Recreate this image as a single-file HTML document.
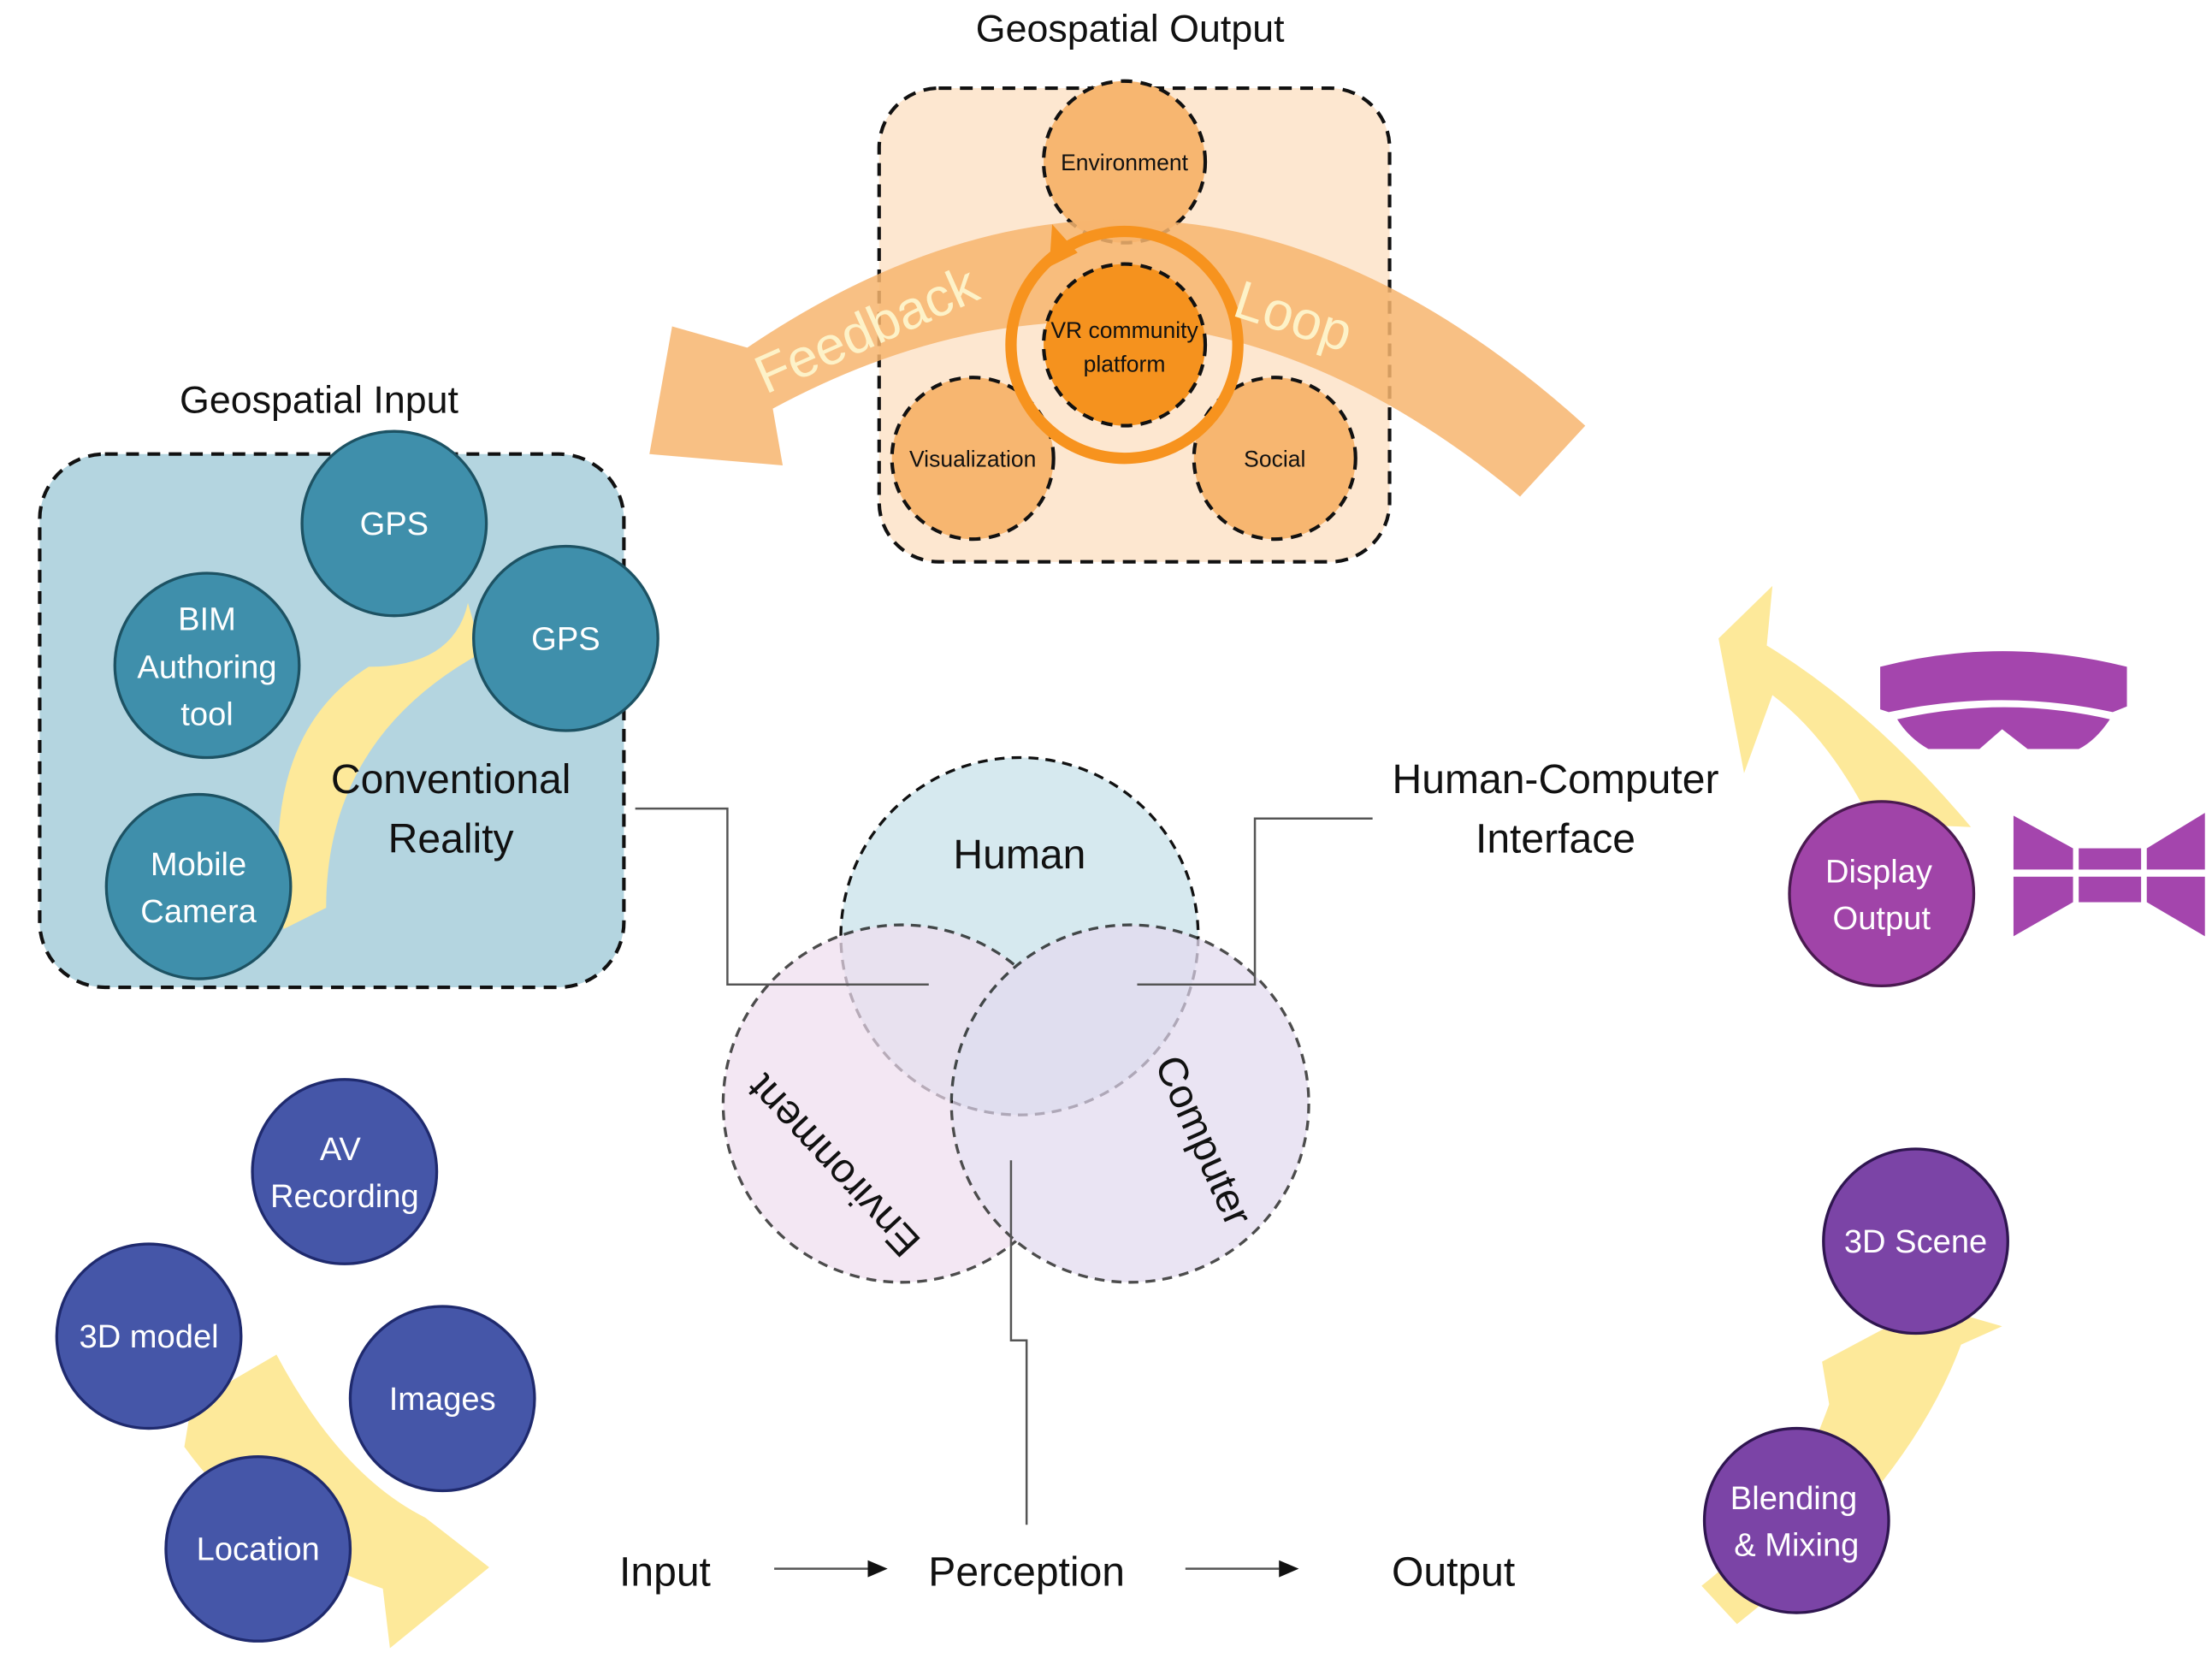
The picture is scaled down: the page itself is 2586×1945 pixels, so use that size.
<!DOCTYPE html>
<html><head><meta charset="utf-8">
<style>
html,body{margin:0;padding:0;background:#fff;}
svg{display:block;}
text{font-family:"Liberation Sans",sans-serif;}
</style></head>
<body>
<svg width="2586" height="1945" viewBox="0 0 1560 1173" xmlns="http://www.w3.org/2000/svg">
<rect width="1560" height="1173" fill="#fff"/>

<!-- Geospatial Output -->
<text x="797" y="29" font-size="27" text-anchor="middle" fill="#111">Geospatial Output</text>
<rect x="620" y="62" width="360" height="334" rx="42" fill="#fde7d0" stroke="#111" stroke-width="2.5" stroke-dasharray="9,6"/>
<g stroke="#111" stroke-width="2.5" stroke-dasharray="8,6">
<ellipse cx="793" cy="114" rx="57" ry="57" fill="#f7b670"/>
<ellipse cx="686" cy="323" rx="57" ry="57" fill="#f7b670"/>
<ellipse cx="899" cy="323" rx="57" ry="57" fill="#f7b670"/>
</g>
<path d="M1118,300 Q830,40 527,245 L474,230 L458,320 L552,328 L545,288 Q820,140 1072,350 Z" fill="#f7b56e" opacity="0.85"/>
<circle cx="793" cy="243" r="80" fill="none" stroke="#f7931e" stroke-width="8"/>
<path d="M742,158 L760,178 L740,188 Z" fill="#f7931e"/>
<ellipse cx="793" cy="243" rx="57" ry="57" fill="#f5921e" stroke="#111" stroke-width="2.5" stroke-dasharray="8,6"/>
<text font-size="38" fill="#fdf2c8" transform="translate(540,278) rotate(-24)">Feedback</text>
<text font-size="38" fill="#fdf2c8" transform="translate(868,222) rotate(18)">Loop</text>
<g font-size="16" text-anchor="middle" fill="#111">
<text x="793" y="120">Environment</text>
<text x="793" y="238">VR community</text>
<text x="793" y="262">platform</text>
<text x="686" y="329">Visualization</text>
<text x="899" y="329">Social</text>
</g>

<!-- Geospatial Input -->
<text x="225" y="291" font-size="27" text-anchor="middle" fill="#111">Geospatial Input</text>
<rect x="28" y="320" width="412" height="376" rx="46" fill="#b4d5e0" stroke="#111" stroke-width="2.5" stroke-dasharray="9,6"/>
<path d="M330,425 Q320,470 260,470 Q180,520 200,655 L230,640 Q230,520 340,460 Z" fill="#fde99a"/>
<g fill="#3f8fab" stroke="#1d5263" stroke-width="2">
<circle cx="278" cy="369" r="65"/>
<circle cx="399" cy="450" r="65"/>
<circle cx="146" cy="469" r="65"/>
<circle cx="140" cy="625" r="65"/>
</g>
<g font-size="23" text-anchor="middle" fill="#fff">
<text x="278" y="377">GPS</text>
<text x="399" y="458">GPS</text>
<text x="146" y="444">BIM</text>
<text x="146" y="478">Authoring</text>
<text x="146" y="511">tool</text>
<text x="140" y="617">Mobile</text>
<text x="140" y="650">Camera</text>
</g>
<g font-size="29" text-anchor="middle" fill="#111">
<text x="318" y="559">Conventional</text>
<text x="318" y="601">Reality</text>
</g>

<!-- Venn -->
<circle cx="719" cy="660" r="126" fill="#d6e9ef" stroke="#111" stroke-width="2" stroke-dasharray="7,5"/>
<g opacity="0.75">
<circle cx="636" cy="778" r="126" fill="#efdff0" stroke="#111" stroke-width="2" stroke-dasharray="7,5"/>
<circle cx="797" cy="778" r="126" fill="#e4dbf0" stroke="#111" stroke-width="2" stroke-dasharray="7,5"/>
</g>
<path d="M636,652 A126,126 0 0 1 762,778" fill="none" stroke="#111" stroke-width="2" stroke-dasharray="7,5" opacity="0"/>
<text x="719" y="612" font-size="29" text-anchor="middle" fill="#111">Human</text>
<text font-size="29" text-anchor="middle" fill="#111" transform="translate(595,815) rotate(-133)">Environment</text>
<text font-size="29" text-anchor="middle" fill="#111" transform="translate(840,808) rotate(66)">Computer</text>

<!-- connectors -->
<g stroke="#555" stroke-width="1.5" fill="none">
<polyline points="448,570 513,570 513,694 655,694"/>
<polyline points="968,577 885,577 885,694 802,694"/>
<polyline points="713,818 713,945 724,945 724,1075"/>
<line x1="546" y1="1106" x2="612" y2="1106"/>
<line x1="836" y1="1106" x2="902" y2="1106"/>
</g>
<path d="M612,1100 L626,1106 L612,1112 Z" fill="#111"/>
<path d="M902,1100 L916,1106 L902,1112 Z" fill="#111"/>
<g font-size="29" text-anchor="middle" fill="#111">
<text x="1097" y="559">Human-Computer</text>
<text x="1097" y="601">Interface</text>
<text x="469" y="1118">Input</text>
<text x="724" y="1118">Perception</text>
<text x="1025" y="1118">Output</text>
</g>

<!-- bottom-left group -->
<path d="M135,990 L195,955 Q240,1040 300,1070 L345,1105 L275,1162 L270,1120 Q180,1090 130,1020 Z" fill="#fde99a"/>
<g fill="#4556a8" stroke="#1f2a6e" stroke-width="2">
<circle cx="243" cy="826" r="65"/>
<circle cx="105" cy="942" r="65"/>
<circle cx="312" cy="986" r="65"/>
<circle cx="182" cy="1092" r="65"/>
</g>
<g font-size="23" text-anchor="middle" fill="#fff">
<text x="240" y="818">AV</text>
<text x="243" y="851">Recording</text>
<text x="105" y="950">3D model</text>
<text x="312" y="994">Images</text>
<text x="182" y="1100">Location</text>
</g>

<!-- right: display output -->
<path d="M1250,413 L1246,455 Q1320,500 1390,583 L1320,580 Q1290,520 1250,490 L1230,545 L1212,450 Z" fill="#fde99a"/>
<path d="M1326,470 Q1412,448 1500,470 L1500,498 L1490,502 Q1412,485 1332,502 L1326,500 Z" fill="#a445ad"/>
<path d="M1338,507 Q1414,490 1488,507 Q1478,522 1466,528 L1430,528 L1412,514 L1396,528 L1360,528 Q1346,520 1338,507 Z" fill="#a445ad"/>
<g fill="#a445ad">
<path d="M1420,575 L1462,598 L1462,613 L1420,613 Z"/>
<path d="M1420,618 L1462,618 L1462,636 L1420,660 Z"/>
<rect x="1466" y="598" width="44" height="15"/>
<rect x="1466" y="618" width="44" height="18"/>
<path d="M1555,573 L1514,598 L1514,613 L1555,613 Z"/>
<path d="M1555,618 L1514,618 L1514,636 L1555,660 Z"/>
</g>
<circle cx="1327" cy="630" r="65" fill="#a044a8" stroke="#4a1a50" stroke-width="2"/>
<g font-size="23" text-anchor="middle" fill="#fff">
<text x="1325" y="622">Display</text>
<text x="1327" y="655">Output</text>
</g>

<!-- right bottom -->
<path d="M1200,1118 Q1262,1070 1290,990 L1285,960 L1360,920 L1412,935 L1383,948 Q1345,1050 1225,1145 Z" fill="#fde99a"/>
<g fill="#7b44a6" stroke="#2f1650" stroke-width="2">
<circle cx="1351" cy="875" r="65"/>
<circle cx="1267" cy="1072" r="65"/>
</g>
<g font-size="23" text-anchor="middle" fill="#fff">
<text x="1351" y="883">3D Scene</text>
<text x="1265" y="1064">Blending</text>
<text x="1267" y="1097">&amp; Mixing</text>
</g>
</svg>
</body></html>
